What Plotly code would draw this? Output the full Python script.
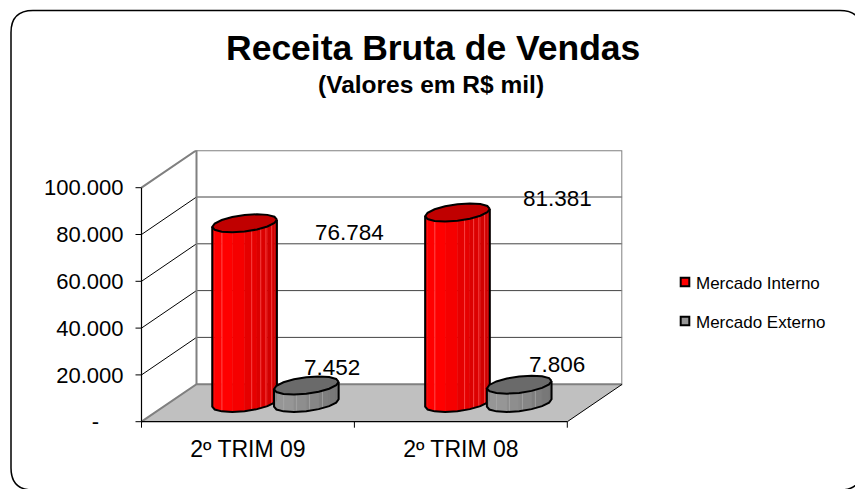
import math
import plotly.graph_objects as go

categories = ["2º TRIM 09", "2º TRIM 08"]
series_names = ["Mercado Interno", "Mercado Externo"]
series_colors = ["#ff0000", "#969696"]
mercado_interno = [76784, 81381]
mercado_externo = [7452, 7806]
value_labels_interno = ["76.784", "81.381"]
value_labels_externo = ["7.452", "7.806"]
y_ticks = [0, 20000, 40000, 60000, 80000, 100000]
y_tick_labels = ["-\u00a0\u00a0\u00a0\u00a0", "20.000", "40.000", "60.000", "80.000", "100.000"]

W, H = 855, 489
X0, X1, UNIT = 141.5, 622.3, 212.9
Y0, Y1, VPX = 421.7, 150.3, 234 / 100000
PAD = 8
DX = 55 / UNIT
DV = 37.5 / VPX
FONT = "Liberation Sans, Arial, sans-serif"


def proj(x, d, v):
    return x + d * DX, v + d * DV


def ell(cx, v, theta, a=0.1386, k=0.24):
    return proj(cx + a * math.cos(theta), 0.5 + k * math.sin(theta), v)


TH0 = math.atan2(0.24 * 55, 0.1386 * UNIT)
N = 8
RED = ["#ea0000", "#ff0000", "#ff0000", "#f60000", "#e60000", "#dc0000", "#d20000", "#c80000"]
GRAY = ["#8c8c8c", "#969696", "#969696", "#8e8e8e", "#868686", "#7e7e7e", "#787878", "#727272"]
RED_SEAMS = [0.15, 0.61, 0.75, 0.83, 0.92]
GRAY_SEAMS = [0.15, 0.35, 0.55, 0.75]

fig = go.Figure()


def poly(xs, ys, fill=None, line="black", width=0.0):
    fig.add_trace(go.Scatter(
        x=xs, y=ys, mode="lines", showlegend=False, hoverinfo="skip",
        fill="toself" if fill else None, fillcolor=fill,
        line=dict(color=line, width=width, simplify=False),
    ))


# floor
fl = [proj(0, 0, 0), proj(2, 0, 0), proj(2, 1, 0), proj(0, 1, 0)]
poly([p[0] for p in fl], [p[1] for p in fl], fill="#c0c0c0", line="#c0c0c0", width=0)

# gridlines on the walls
for t in y_ticks[1:-1]:
    a, b, c = proj(0, 0, t), proj(0, 1, t), proj(2, 1, t)
    poly([a[0], b[0]], [a[1], b[1]], line="#000000", width=1)
    poly([b[0], c[0]], [b[1], c[1]], line="#444444", width=1)

# wall edges
top = y_ticks[-1]
a, b, c, d = proj(0, 0, 0), proj(0, 1, 0), proj(2, 1, 0), proj(2, 1, top)
e, f = proj(0, 1, top), proj(0, 0, top)
poly([a[0], b[0], c[0], d[0], e[0], f[0]], [a[1], b[1], c[1], d[1], e[1], f[1]],
     line="#808080", width=2)
poly([b[0], e[0]], [b[1], e[1]], line="#808080", width=2)
g = proj(2, 0, 0)
poly([g[0], c[0]], [g[1], c[1]], line="#000000", width=1)
poly([0, 0], [0, top], line="#000000", width=1.2)
poly([0, 2], [0, 0], line="#000000", width=1.2)


def cylinder(cx, value, shades, seams, seam_color, top_color):
    for i in range(N):
        t1 = TH0 + math.pi + math.pi * i / N
        t2 = TH0 + math.pi + math.pi * (i + 1) / N
        p = [ell(cx, 0, t1), ell(cx, 0, t2), ell(cx, value, t2), ell(cx, value, t1), ell(cx, 0, t1)]
        poly([q[0] for q in p], [q[1] for q in p], fill=shades[i], line=shades[i], width=0.5)
    for u in seams:
        t = TH0 + math.pi + math.acos(1 - 2 * u)
        p = [ell(cx, 0, t), ell(cx, value, t)]
        poly([q[0] for q in p], [q[1] for q in p], line=seam_color, width=0.7)
    arc = [ell(cx, 0, TH0 + math.pi + math.pi * i / N) for i in range(N + 1)]
    out = [ell(cx, value, TH0 + math.pi)] + arc + [ell(cx, value, TH0)]
    poly([q[0] for q in out], [q[1] for q in out], line="#000000", width=2)
    ring = [ell(cx, value, TH0 + 2 * math.pi * i / (2 * N)) for i in range(2 * N + 1)]
    poly([q[0] for q in ring], [q[1] for q in ring], fill=top_color, line="#000000", width=2)


centers = [(0.355, 0.645), (1.355, 1.645)]
offsets_interno = [(105, 9), (100, -14)]
offsets_externo = [(26, -18), (38, -20)]
annotations = []
for i in range(len(categories)):
    ci, ce = centers[i]
    cylinder(ci, mercado_interno[i], RED, RED_SEAMS, "#ff6060", "#c00000")
    cylinder(ce, mercado_externo[i], GRAY, GRAY_SEAMS, "#aaaaaa", "#6a6a6a")
    for cx, v, lab, off in ((ci, mercado_interno[i], value_labels_interno[i], offsets_interno[i]),
                            (ce, mercado_externo[i], value_labels_externo[i], offsets_externo[i])):
        px, py = proj(cx, 0.5, v)
        annotations.append(dict(x=px, y=py, xref="x", yref="y", text=lab, showarrow=False,
                                xshift=off[0], yshift=-off[1],
                                font=dict(family=FONT, size=22.5, color="#000000")))

# legend entries: native legend carries the text; the swatches sit closer to it, as in the reference
for name in series_names:
    fig.add_trace(go.Scatter(
        x=[None], y=[None], mode="markers", name=name, legendgroup=name,
        marker=dict(symbol="square", size=9, color="rgba(0,0,0,0)", line=dict(width=0)),
    ))

annotations += [
    dict(x=432.5 / W, y=1 - 48 / H, xref="paper", yref="paper", text="<b>Receita Bruta de Vendas</b>",
         showarrow=False, yanchor="middle", font=dict(family=FONT, size=35.5, color="#000000")),
    dict(x=431 / W, y=1 - 85 / H, xref="paper", yref="paper", text="<b>(Valores em R$ mil)</b>",
         showarrow=False, yanchor="middle", font=dict(family=FONT, size=24.5, color="#000000")),
]


# rounded frame
L, T, R, B, r = 11, 10.5, 862, 490, 22
def sx(v): return v / W
def sy(v): return 1 - v / H
frame = (f"M {sx(L + r)} {sy(T)} L {sx(R - r)} {sy(T)} Q {sx(R)} {sy(T)} {sx(R)} {sy(T + r)} "
         f"L {sx(R)} {sy(B - r)} Q {sx(R)} {sy(B)} {sx(R - r)} {sy(B)} L {sx(L + r)} {sy(B)} "
         f"Q {sx(L)} {sy(B)} {sx(L)} {sy(B - r)} L {sx(L)} {sy(T + r)} Q {sx(L)} {sy(T)} {sx(L + r)} {sy(T)} Z")

shapes = [dict(type="path", path=frame, xref="paper", yref="paper", layer="below",
               line=dict(color="#000000", width=1.5), fillcolor="#ffffff")]
for color, yc in zip(series_colors, [282, 321]):
    shapes.append(dict(type="rect", xref="paper", yref="paper", layer="above",
                       x0=sx(680.7), x1=sx(689.3), y0=sy(yc - 4.3), y1=sy(yc + 4.3),
                       fillcolor=color, line=dict(color="#000000", width=2)))

fig.update_layout(
    width=W, height=H, margin=dict(l=0, r=0, t=0, b=0),
    paper_bgcolor="#ffffff", plot_bgcolor="rgba(0,0,0,0)",
    font=dict(family=FONT, color="#000000"),
    annotations=annotations,
    shapes=shapes,
    legend=dict(x=656 / W, y=1 - 265 / H, xanchor="left", yanchor="top", tracegroupgap=14,
                bgcolor="rgba(0,0,0,0)", font=dict(family=FONT, size=17, color="#000000")),
    xaxis=dict(domain=[(X0 - PAD) / W, X1 / W], range=[-PAD / UNIT, (X1 - X0) / UNIT], showgrid=False,
               zeroline=False, showline=False, tickmode="array", tickvals=[0.5, 1.5], ticktext=categories,
               ticks="", tickfont=dict(family=FONT, size=23, color="#000000"), ticklabelstandoff=3,
               automargin=False),
    yaxis=dict(domain=[1 - (Y0 + PAD) / H, 1 - Y1 / H], range=[-PAD / VPX, (Y0 - Y1) / VPX], showgrid=False,
               zeroline=False, showline=False, tickmode="array", tickvals=y_ticks, ticktext=y_tick_labels,
               ticks="", ticklabelstandoff=9,
               tickfont=dict(family=FONT, size=22, color="#000000"), automargin=False),
)

# tick marks drawn from the same scale, since the axes now start just outside the zero lines
for t in y_ticks:
    fig.add_trace(go.Scatter(x=[-6 / UNIT, 0], y=[t, t], mode="lines", showlegend=False, hoverinfo="skip",
                             line=dict(color="#000000", width=1)))
for t in [0, 1, 2]:
    fig.add_trace(go.Scatter(x=[t, t], y=[-6 / VPX, 0], mode="lines", showlegend=False, hoverinfo="skip",
                             line=dict(color="#000000", width=1)))

fig.write_html("out.html", config={"displayModeBar": False},
               post_script="document.body.style.margin='0';")
